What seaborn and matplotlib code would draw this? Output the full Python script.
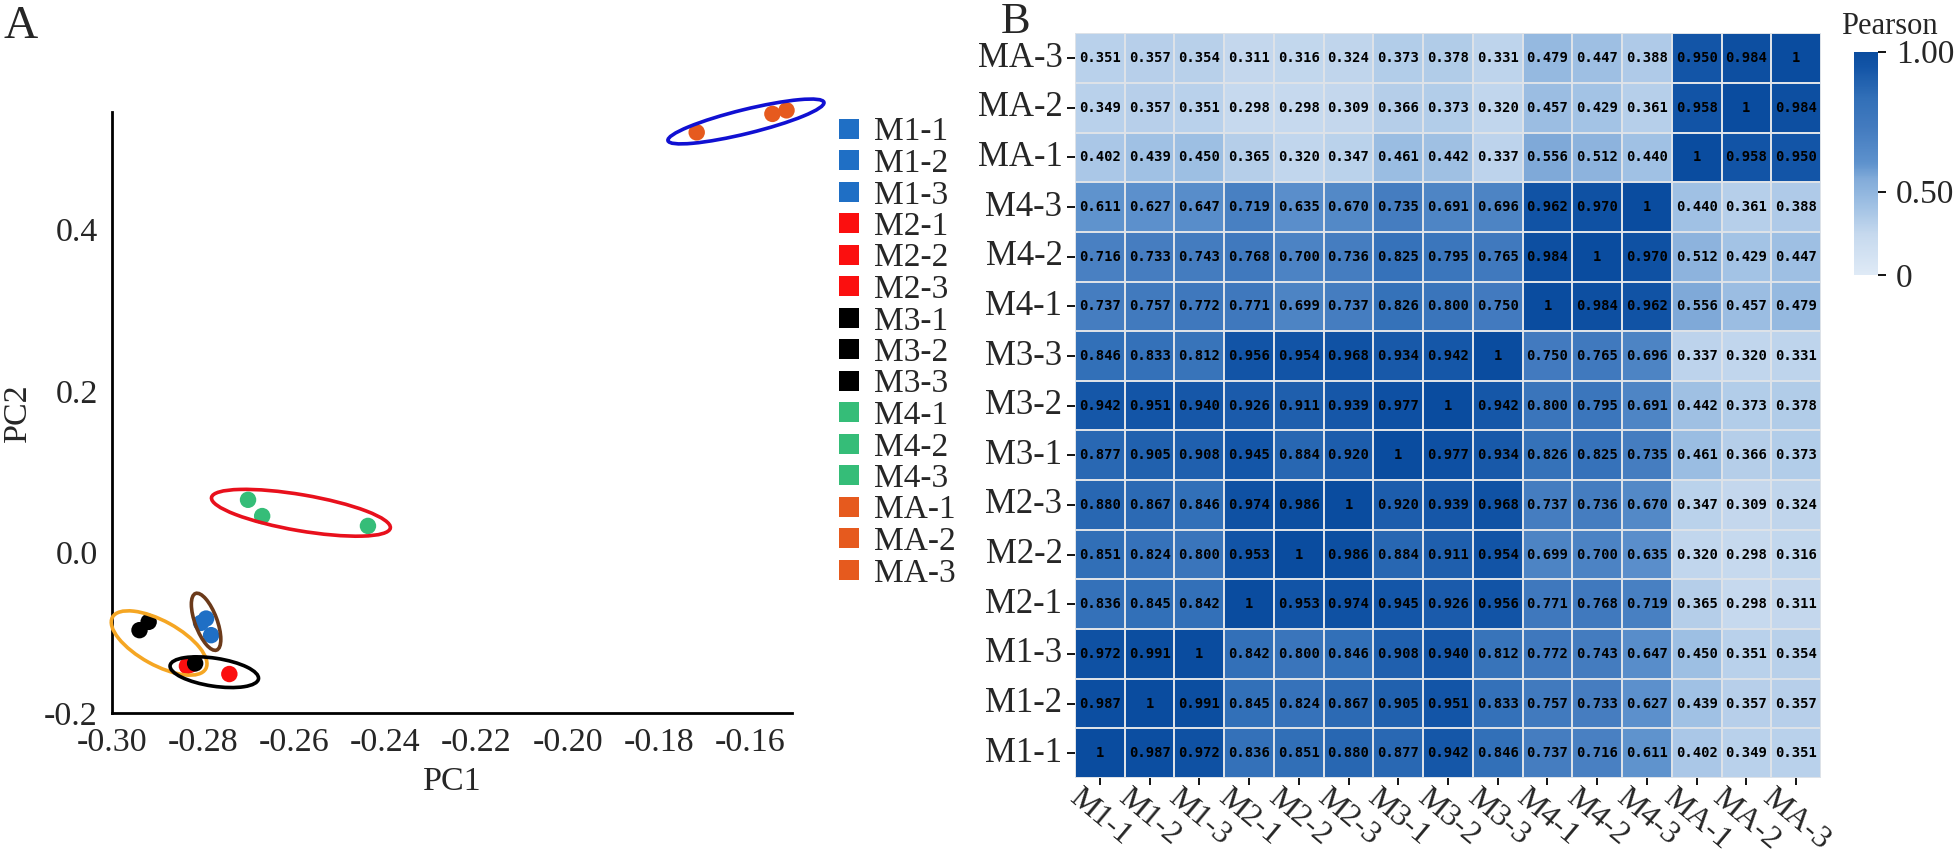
import numpy as np
import pandas as pd
import matplotlib
matplotlib.use('Agg')
import matplotlib.pyplot as plt
import matplotlib.transforms as mtransforms
from matplotlib.patches import Ellipse
from matplotlib.lines import Line2D
from matplotlib.colors import LinearSegmentedColormap, PowerNorm
import seaborn as sns

# Muestras y grupos
muestras = ['M1-1', 'M1-2', 'M1-3', 'M2-1', 'M2-2', 'M2-3', 'M3-1', 'M3-2', 'M3-3',
            'M4-1', 'M4-2', 'M4-3', 'MA-1', 'MA-2', 'MA-3']
grupos = ['M1'] * 3 + ['M2'] * 3 + ['M3'] * 3 + ['M4'] * 3 + ['MA'] * 3

# Coordenadas PCA
pc1 = [-0.2804, -0.2793, -0.2782,
       -0.2835, -0.2826, -0.2742,
       -0.2939, -0.2919, -0.2817,
       -0.2701, -0.2670, -0.2438,
       -0.1717, -0.1551, -0.1520]
pc2 = [-0.0878, -0.0825, -0.1031,
       -0.1414, -0.1395, -0.1513,
       -0.0969, -0.0866, -0.1381,
       0.0648, 0.0446, 0.0324,
       0.5205, 0.5434, 0.5478]

# Centros de las elipses (unidades de datos)
elipse_cx = [-0.1609, -0.2585, -0.2793, -0.2896, -0.2775]
elipse_cy = [0.534, 0.0487, -0.0865, -0.1128, -0.149]

# Matriz de correlacion de Pearson (filas/columnas en el orden de 'muestras')
pearson = [
    [1, 0.987, 0.972, 0.836, 0.851, 0.880, 0.877, 0.942, 0.846, 0.737, 0.716, 0.611, 0.402, 0.349, 0.351],
    [0.987, 1, 0.991, 0.845, 0.824, 0.867, 0.905, 0.951, 0.833, 0.757, 0.733, 0.627, 0.439, 0.357, 0.357],
    [0.972, 0.991, 1, 0.842, 0.800, 0.846, 0.908, 0.940, 0.812, 0.772, 0.743, 0.647, 0.450, 0.351, 0.354],
    [0.836, 0.845, 0.842, 1, 0.953, 0.974, 0.945, 0.926, 0.956, 0.771, 0.768, 0.719, 0.365, 0.298, 0.311],
    [0.851, 0.824, 0.800, 0.953, 1, 0.986, 0.884, 0.911, 0.954, 0.699, 0.700, 0.635, 0.320, 0.298, 0.316],
    [0.880, 0.867, 0.846, 0.974, 0.986, 1, 0.920, 0.939, 0.968, 0.737, 0.736, 0.670, 0.347, 0.309, 0.324],
    [0.877, 0.905, 0.908, 0.945, 0.884, 0.920, 1, 0.977, 0.934, 0.826, 0.825, 0.735, 0.461, 0.366, 0.373],
    [0.942, 0.951, 0.940, 0.926, 0.911, 0.939, 0.977, 1, 0.942, 0.800, 0.795, 0.691, 0.442, 0.373, 0.378],
    [0.846, 0.833, 0.812, 0.956, 0.954, 0.968, 0.934, 0.942, 1, 0.750, 0.765, 0.696, 0.337, 0.320, 0.331],
    [0.737, 0.757, 0.772, 0.771, 0.699, 0.737, 0.826, 0.800, 0.750, 1, 0.984, 0.962, 0.556, 0.457, 0.479],
    [0.716, 0.733, 0.743, 0.768, 0.700, 0.736, 0.825, 0.795, 0.765, 0.984, 1, 0.970, 0.512, 0.429, 0.447],
    [0.611, 0.627, 0.647, 0.719, 0.635, 0.670, 0.735, 0.691, 0.696, 0.962, 0.970, 1, 0.440, 0.361, 0.388],
    [0.402, 0.439, 0.450, 0.365, 0.320, 0.347, 0.461, 0.442, 0.337, 0.556, 0.512, 0.440, 1, 0.958, 0.950],
    [0.349, 0.357, 0.351, 0.298, 0.298, 0.309, 0.366, 0.373, 0.320, 0.457, 0.429, 0.361, 0.958, 1, 0.984],
    [0.351, 0.357, 0.354, 0.311, 0.316, 0.324, 0.373, 0.378, 0.331, 0.479, 0.447, 0.388, 0.950, 0.984, 1],
]

# Estilos
colores_grupo = {'M1': '#1f6fc5', 'M2': '#fb0f0f', 'M3': '#000000', 'M4': '#35bd78', 'MA': '#e65a1e'}
elipse_color = ['#1010d2', '#e8101c', '#6b3a1a', '#f5a623', '#000000']
# semiejes (pixeles) y angulo en pantalla
elipse_a = [80.3, 90.7, 30.2, 53.3, 44.7]
elipse_b = [12.0, 18.0, 11.0, 22.0, 14.0]
elipse_ang = [13.8, -9.7, 110.4, -28.9, -8.6]

sns.set_style('white')
plt.rcParams['font.family'] = ['Liberation Serif', 'DejaVu Serif']
plt.rcParams['axes.unicode_minus'] = False

fig = plt.figure(figsize=(19.6, 8.55), dpi=100)
W, H = 1960, 855

def caja(x0, x1, y0, y1):
    return [x0 / W, 1 - y1 / H, (x1 - x0) / W, (y1 - y0) / H]

# ---------------- Panel A: PCA ----------------
ax = fig.add_axes(caja(111.7, 792, 111.8, 713.3))
df_pca = pd.DataFrame({'muestra': muestras, 'grupo': grupos, 'PC1': pc1, 'PC2': pc2})
paleta = {m: colores_grupo[g] for m, g in zip(muestras, grupos)}
sns.scatterplot(data=df_pca, x='PC1', y='PC2', hue='muestra', palette=paleta,
                s=140, linewidth=0, legend=False, ax=ax, clip_on=False, zorder=3)
ax.set_xlim(-0.30, -0.1508)
ax.set_ylim(-0.2, 0.546)
ticks_x = np.arange(-0.30, -0.159, 0.02)
ax.set_xticks(ticks_x)
ax.set_xticklabels([f'{v:.2f}' for v in ticks_x])
ax.set_yticks([-0.2, 0.0, 0.2, 0.4])
ax.set_yticklabels(['-0.2', '0.0', '0.2', '0.4'])
sns.despine(ax=ax)
for lado in ['left', 'bottom']:
    ax.spines[lado].set_linewidth(2)
    ax.spines[lado].set_color('black')
ax.tick_params(axis='both', direction='out', length=7, width=2, color='black',
               labelsize=24.5, pad=3)
ax.set_xlabel('PC1', fontsize=24.5, labelpad=6)
ax.set_ylabel('PC2', fontsize=24.5, labelpad=8)

# Elipses de agrupamiento
fig.canvas.draw()
for cx, cy, a, b, ang, col in zip(elipse_cx, elipse_cy, elipse_a, elipse_b, elipse_ang, elipse_color):
    tr = mtransforms.IdentityTransform() + mtransforms.ScaledTranslation(cx, cy, ax.transData)
    e = Ellipse((0, 0), 2 * a, 2 * b, angle=ang, transform=tr, fill=False,
                edgecolor=col, linewidth=2.6, zorder=4, clip_on=False)
    ax.add_patch(e)

# Leyenda
handles = [Line2D([], [], marker='s', linestyle='', markersize=15,
                  markerfacecolor=paleta[m], markeredgewidth=0) for m in muestras]
fig.legend(handles, muestras, loc='upper left', bbox_to_anchor=(837 / W, 1 - 117 / H),
           frameon=False, fontsize=24, handlelength=0.7, handletextpad=0.4,
           labelspacing=0.03, borderpad=0, borderaxespad=0)

fig.text(3 / W, 1 - 6 / H, 'A', fontsize=34, va='top', ha='left')

# ---------------- Panel B: Heatmap ----------------
df_cor = pd.DataFrame(pearson, index=muestras, columns=muestras).iloc[::-1]
etiquetas = df_cor.map(lambda v: '1' if v == 1 else f'{v:.3f}')

cmap = LinearSegmentedColormap.from_list('pearson', [
    (0.0, '#dfeaf6'), (0.18, '#c6d9ee'), (0.32, '#9dbfe3'), (0.43, '#82abd9'),
    (0.50, '#5e92cd'), (0.66, '#437bbf'), (0.79, '#3270b8'), (0.88, '#1f5fad'),
    (0.93, '#1355a7'), (1.0, '#0a4c9f')])

axh = fig.add_axes(caja(1075, 1821, 33.3, 778))
cax = fig.add_axes(caja(1854, 1878, 51.7, 275))
sns.heatmap(df_cor, ax=axh, cbar_ax=cax, cmap=cmap, norm=PowerNorm(1.42, vmin=0, vmax=1),
            annot=etiquetas, fmt='', linewidths=1.2, linecolor='#dde2e8',
            annot_kws={'color': 'black', 'fontsize': 10, 'fontweight': 'bold',
                       'family': 'DejaVu Sans Mono'})
axh.tick_params(axis='y', length=6, width=1.3, color='black', labelsize=25, pad=3, left=True)
axh.tick_params(axis='x', length=5, width=1.3, color='black', labelsize=23, pad=-1, bottom=True)
plt.setp(axh.get_xticklabels(), rotation=-40, ha='center', va='top')
plt.setp(axh.get_yticklabels(), rotation=0)
axh.set_xlabel('')
axh.set_ylabel('')

cb = axh.collections[0].colorbar
cb.set_ticks([0, 0.5, 1.0])
cb.set_ticklabels(['0', '0.50', '1.00'])
cb.outline.set_visible(False)
cax.tick_params(labelsize=24, length=6, width=1.3, color='black', pad=7)
fig.text(1889 / W, 1 - 27 / H, 'Pearson', fontsize=22, ha='center', va='center')

fig.text(1001 / W, 1 - 2 / H, 'B', fontsize=32, va='top', ha='left')

fig.savefig('out.png', dpi=100)
